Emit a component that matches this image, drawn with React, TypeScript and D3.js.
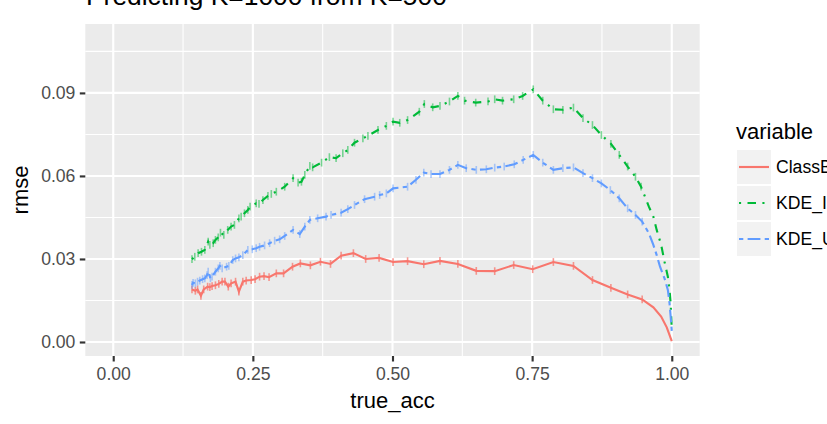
import React, { useEffect, useRef } from "react";
import * as d3 from "d3";

// [true_acc, rmse]
const classB: [number, number][] = [
  [0.141, 0.019], [0.147, 0.0185], [0.151, 0.019], [0.157, 0.0167], [0.162, 0.019],
  [0.169, 0.02], [0.173, 0.0198], [0.177, 0.0202], [0.183, 0.0205], [0.189, 0.021],
  [0.195, 0.0218], [0.2, 0.0218], [0.206, 0.02], [0.211, 0.0212], [0.219, 0.0218],
  [0.225, 0.0182], [0.232, 0.0218], [0.238, 0.0222], [0.247, 0.0224], [0.254, 0.0227],
  [0.262, 0.0236], [0.27, 0.0238], [0.279, 0.0234], [0.292, 0.0248], [0.305, 0.0248],
  [0.321, 0.0272], [0.335, 0.0284], [0.353, 0.0277], [0.371, 0.029], [0.389, 0.0282],
  [0.408, 0.0312], [0.43, 0.0321], [0.452, 0.03], [0.476, 0.0304], [0.501, 0.0289],
  [0.527, 0.0292], [0.556, 0.0281], [0.585, 0.0293], [0.617, 0.0282], [0.65, 0.0257],
  [0.683, 0.0256], [0.717, 0.0278], [0.751, 0.0263], [0.788, 0.0289], [0.824, 0.0275],
  [0.858, 0.0224], [0.891, 0.0196], [0.921, 0.0172], [0.947, 0.0154], [0.967, 0.0125],
  [0.981, 0.0092], [0.991, 0.0053], [1.0, 0.0003],
];

const kdeI: [number, number][] = [
  [0.141, 0.0299], [0.146, 0.0308], [0.152, 0.0321], [0.158, 0.0326], [0.164, 0.0333],
  [0.17, 0.0363], [0.173, 0.0351], [0.179, 0.0357], [0.183, 0.0369], [0.188, 0.0378],
  [0.192, 0.0395], [0.198, 0.0387], [0.205, 0.0405], [0.211, 0.0417], [0.217, 0.0423],
  [0.225, 0.0447], [0.229, 0.0453], [0.235, 0.0465], [0.241, 0.0477], [0.245, 0.0489],
  [0.256, 0.0501], [0.261, 0.0499], [0.268, 0.0513], [0.277, 0.0528], [0.283, 0.0535],
  [0.292, 0.0543], [0.307, 0.0561], [0.322, 0.0592], [0.331, 0.0576], [0.337, 0.0579],
  [0.343, 0.0604], [0.352, 0.0636], [0.357, 0.0631], [0.373, 0.0648], [0.387, 0.0668],
  [0.399, 0.0664], [0.411, 0.0682], [0.42, 0.0694], [0.432, 0.072], [0.447, 0.0736],
  [0.456, 0.0745], [0.474, 0.0766], [0.489, 0.0781], [0.501, 0.0796], [0.513, 0.0792],
  [0.527, 0.0802], [0.548, 0.0832], [0.557, 0.086], [0.572, 0.0848], [0.585, 0.0853],
  [0.602, 0.0869], [0.617, 0.0889], [0.629, 0.0872], [0.649, 0.0865], [0.671, 0.0869],
  [0.683, 0.0877], [0.697, 0.0872], [0.717, 0.0877], [0.733, 0.0889], [0.752, 0.0913],
  [0.769, 0.0872], [0.788, 0.0841], [0.805, 0.0839], [0.824, 0.0847], [0.841, 0.0809],
  [0.858, 0.0784], [0.874, 0.0748], [0.891, 0.0716], [0.906, 0.0676], [0.921, 0.0634],
  [0.935, 0.0597], [0.945, 0.0561], [0.959, 0.0489], [0.967, 0.0453], [0.973, 0.0405],
  [0.981, 0.0351], [0.987, 0.029], [0.993, 0.0236], [0.996, 0.0188], [0.998, 0.014],
  [1.0, 0.0045],
];

const kdeU: [number, number][] = [
  [0.141, 0.0206], [0.143, 0.0214], [0.147, 0.0212], [0.151, 0.0218], [0.155, 0.0222],
  [0.16, 0.0227], [0.164, 0.023], [0.168, 0.0242], [0.17, 0.0254], [0.174, 0.023],
  [0.177, 0.0236], [0.183, 0.0254], [0.188, 0.0266], [0.191, 0.0275], [0.195, 0.0266],
  [0.203, 0.0272], [0.207, 0.0275], [0.214, 0.0296], [0.219, 0.0302], [0.225, 0.0306],
  [0.232, 0.0314], [0.241, 0.0333], [0.249, 0.0335], [0.256, 0.0339], [0.262, 0.0344],
  [0.271, 0.0349], [0.28, 0.0357], [0.289, 0.0366], [0.298, 0.0371], [0.307, 0.0383],
  [0.322, 0.0405], [0.334, 0.039], [0.343, 0.0417], [0.352, 0.0441], [0.366, 0.0447],
  [0.381, 0.0453], [0.39, 0.0459], [0.408, 0.0467], [0.42, 0.048], [0.432, 0.0495],
  [0.45, 0.0516], [0.468, 0.0525], [0.477, 0.0531], [0.489, 0.0537], [0.501, 0.0555],
  [0.527, 0.0561], [0.542, 0.0586], [0.556, 0.0612], [0.569, 0.0607], [0.585, 0.0607],
  [0.602, 0.0622], [0.617, 0.064], [0.632, 0.0628], [0.65, 0.0622], [0.668, 0.0624],
  [0.683, 0.063], [0.7, 0.0634], [0.718, 0.0642], [0.734, 0.0658], [0.752, 0.0676],
  [0.769, 0.0648], [0.788, 0.0622], [0.805, 0.0628], [0.824, 0.0631], [0.841, 0.061],
  [0.858, 0.0592], [0.874, 0.0573], [0.89, 0.0549], [0.906, 0.0519], [0.921, 0.0483],
  [0.935, 0.0459], [0.947, 0.0435], [0.959, 0.0393], [0.967, 0.0351], [0.973, 0.0314],
  [0.979, 0.0272], [0.987, 0.023], [0.993, 0.0188], [0.996, 0.014], [0.998, 0.0092],
  [1.0, 0.004],
];

const seriesNames = ["ClassBased", "KDE_Inferred", "KDE_Uniform"];
const seriesData = [classB, kdeI, kdeU];
const xTicks = [0, 0.25, 0.5, 0.75, 1];
const yTicks = [0, 0.03, 0.06, 0.09];
const xMinor = [0.125, 0.375, 0.625, 0.875];
const yMinor = [0.015, 0.045, 0.075, 0.105];
const errHalf = 0.0014; // half height of the little error bars

const colors = ["#F8766D", "#00BA38", "#619CFF"];
const dashes = ["none", "2.1,6.4,8.5,6.4", "4.3,4.3,12.8,4.3"];
const FONT = "'Liberation Sans', Arial, Helvetica, sans-serif";

const App = () => {
  const svgRef = useRef<SVGSVGElement>(null);

  useEffect(() => {
    const width = 827;
    const height = 424;
    const panel = { left: 85.3, right: 699.7, top: 24, bottom: 356 };

    const svg = d3.select(svgRef.current);
    svg.selectAll("*").remove();
    svg.attr("width", width).attr("height", height);

    svg.append("rect").attr("width", width).attr("height", height).attr("fill", "white");

    const x = d3.scaleLinear().domain([-0.05, 1.05]).range([panel.left, panel.right]);
    const y = d3.scaleLinear().domain([-0.00506, 0.1149]).range([panel.bottom, panel.top]);

    // panel + grid
    svg
      .append("rect")
      .attr("x", panel.left)
      .attr("y", panel.top)
      .attr("width", panel.right - panel.left)
      .attr("height", panel.bottom - panel.top)
      .attr("fill", "#EBEBEB");

    const grid = svg.append("g");
    grid
      .selectAll(".xminor")
      .data(xMinor)
      .enter()
      .append("line")
      .attr("x1", (d) => x(d))
      .attr("x2", (d) => x(d))
      .attr("y1", panel.top)
      .attr("y2", panel.bottom)
      .attr("stroke", "white")
      .attr("stroke-width", 1.07);
    grid
      .selectAll(".yminor")
      .data(yMinor)
      .enter()
      .append("line")
      .attr("y1", (d) => y(d))
      .attr("y2", (d) => y(d))
      .attr("x1", panel.left)
      .attr("x2", panel.right)
      .attr("stroke", "white")
      .attr("stroke-width", 1.07);
    grid
      .selectAll(".xmajor")
      .data(xTicks)
      .enter()
      .append("line")
      .attr("x1", (d) => x(d))
      .attr("x2", (d) => x(d))
      .attr("y1", panel.top)
      .attr("y2", panel.bottom)
      .attr("stroke", "white")
      .attr("stroke-width", 2.13);
    grid
      .selectAll(".ymajor")
      .data(yTicks)
      .enter()
      .append("line")
      .attr("y1", (d) => y(d))
      .attr("y2", (d) => y(d))
      .attr("x1", panel.left)
      .attr("x2", panel.right)
      .attr("stroke", "white")
      .attr("stroke-width", 2.13);

    // lines and error ticks
    const line = d3
      .line<[number, number]>()
      .x((d) => x(d[0]))
      .y((d) => y(d[1]));

    seriesData.forEach((pts, i) => {
      const g = svg.append("g");
      g.selectAll("line")
        .data(pts.filter((d) => d[0] < 0.95))
        .enter()
        .append("line")
        .attr("x1", (d) => x(d[0]))
        .attr("x2", (d) => x(d[0]))
        .attr("y1", (d) => y(d[1] - errHalf))
        .attr("y2", (d) => y(d[1] + errHalf))
        .attr("stroke", colors[i])
        .attr("stroke-width", 1.6)
        .attr("opacity", i === 0 ? 0.75 : 0.5);
      g.append("path")
        .datum(pts)
        .attr("d", line)
        .attr("fill", "none")
        .attr("stroke", colors[i])
        .attr("stroke-width", 2.13)
        .attr("stroke-dasharray", dashes[i]);
    });

    // axes
    const yAxis = d3
      .axisLeft(y)
      .tickValues(yTicks)
      .tickFormat(d3.format(".2f"))
      .tickSize(5.5)
      .tickPadding(4.4);
    const xAxis = d3
      .axisBottom(x)
      .tickValues(xTicks)
      .tickFormat(d3.format(".2f"))
      .tickSize(5.5)
      .tickPadding(6.5);

    const yg = svg.append("g").attr("transform", `translate(${panel.left},0)`).call(yAxis);
    const xg = svg.append("g").attr("transform", `translate(0,${panel.bottom})`).call(xAxis);
    [yg, xg].forEach((g) => {
      g.select(".domain").remove();
      g.selectAll(".tick line").attr("stroke", "#333333").attr("stroke-width", 2.13);
      g.selectAll(".tick text")
        .attr("fill", "#4D4D4D")
        .style("font-family", FONT)
        .style("font-size", "17.6px");
    });

    // titles
    svg
      .append("text")
      .attr("x", 86)
      .attr("y", 5)
      .text("Predicting K=1000 from K=500")
      .style("font-family", FONT)
      .style("font-size", "26.4px")
      .attr("fill", "black");

    svg
      .append("text")
      .attr("x", (panel.left + panel.right) / 2)
      .attr("y", 408)
      .attr("text-anchor", "middle")
      .text("true_acc")
      .style("font-family", FONT)
      .style("font-size", "22px");

    svg
      .append("text")
      .attr("transform", `translate(28,${(panel.top + panel.bottom) / 2}) rotate(-90)`)
      .attr("text-anchor", "middle")
      .text("rmse")
      .style("font-family", FONT)
      .style("font-size", "22px");

    // legend
    const legend = svg.append("g");
    legend
      .append("text")
      .attr("x", 736)
      .attr("y", 139)
      .text("variable")
      .style("font-family", FONT)
      .style("font-size", "22px");

    seriesNames.forEach((name, i) => {
      const top = 150 + i * 36;
      legend
        .append("rect")
        .attr("x", 737)
        .attr("y", top)
        .attr("width", 34)
        .attr("height", 34)
        .attr("fill", "#F2F2F2");
      legend
        .append("line")
        .attr("x1", 739)
        .attr("x2", 769)
        .attr("y1", top + 17)
        .attr("y2", top + 17)
        .attr("stroke", colors[i])
        .attr("stroke-width", 2.13)
        .attr("stroke-dasharray", dashes[i]);
      legend
        .append("text")
        .attr("x", 776)
        .attr("y", top + 23.3)
        .text(name)
        .style("font-family", FONT)
        .style("font-size", "17.6px");
    });
  }, []);

  return (
    <div style={{ position: "absolute", left: 0, top: 0 }}>
      <svg ref={svgRef} style={{ display: "block" }}></svg>
    </div>
  );
};

export default App;
